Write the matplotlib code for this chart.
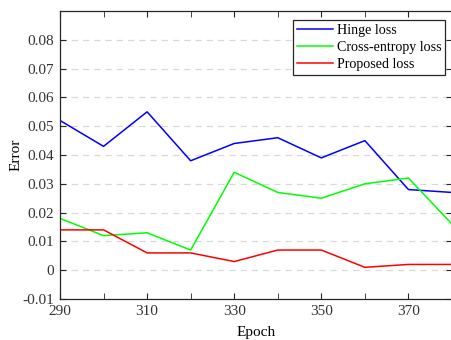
import matplotlib
matplotlib.use('Agg')
import matplotlib.pyplot as plt

# 数据
epochs = [290, 300, 310, 320, 330, 340, 350, 360, 370, 380]
hinge = [0.052, 0.043, 0.055, 0.038, 0.044, 0.046, 0.039, 0.045, 0.028, 0.027]
cross_entropy = [0.018, 0.012, 0.013, 0.007, 0.034, 0.027, 0.025, 0.030, 0.032, 0.016]
proposed = [0.014, 0.014, 0.006, 0.006, 0.003, 0.007, 0.007, 0.001, 0.002, 0.002]
xticks = [290, 310, 330, 350, 370]
yticks = [-0.01, 0, 0.01, 0.02, 0.03, 0.04, 0.05, 0.06, 0.07, 0.08]
ytick_labels = ['-0.01', '0', '0.01', '0.02', '0.03', '0.04', '0.05', '0.06', '0.07', '0.08']

plt.rcParams['font.family'] = ['Liberation Serif', 'DejaVu Serif']
plt.rcParams['font.size'] = 11

fig = plt.figure(figsize=(4.52, 3.40), dpi=100)
ax = fig.add_axes([0.1327, 0.1206, 0.8673, 0.847])

ax.plot(epochs, hinge, color='#0000ff', lw=1.1, label='Hinge loss')
ax.plot(epochs, cross_entropy, color='#00ff00', lw=1.1, label='Cross-entropy loss')
ax.plot(epochs, proposed, color='#ff0000', lw=1.1, label='Proposed loss')

ax.set_xlim(290, 380)
ax.set_ylim(-0.01, 0.09)
ax.set_xticks(xticks)
ax.set_xticks(epochs, minor=True)
ax.set_yticks(yticks)
ax.set_yticklabels(ytick_labels)
ax.tick_params(direction='in', top=True, right=True, which='both', colors='#262626',
               labelcolor='#333333', length=4, labelsize=11, pad=4)
ax.tick_params(which='minor', length=4)
ax.grid(axis='y', linestyle=(0, (5, 4)), color='#d9d9d9', lw=0.9)
for s in ax.spines.values():
    s.set_color('#262626')
    s.set_linewidth(0.9)

ax.set_xlabel('Epoch', fontsize=11, labelpad=6)
ax.set_ylabel('Error', fontsize=11, labelpad=0)

leg = ax.legend(loc='upper right', bbox_to_anchor=(0.982, 0.968), fancybox=False,
                framealpha=1, edgecolor='#262626', handlelength=2.6, handletextpad=0.25,
                borderpad=0.25, labelspacing=0.3, borderaxespad=0, fontsize=10.1)
leg.get_frame().set_linewidth(0.9)

fig.savefig('out.png', dpi=100)
